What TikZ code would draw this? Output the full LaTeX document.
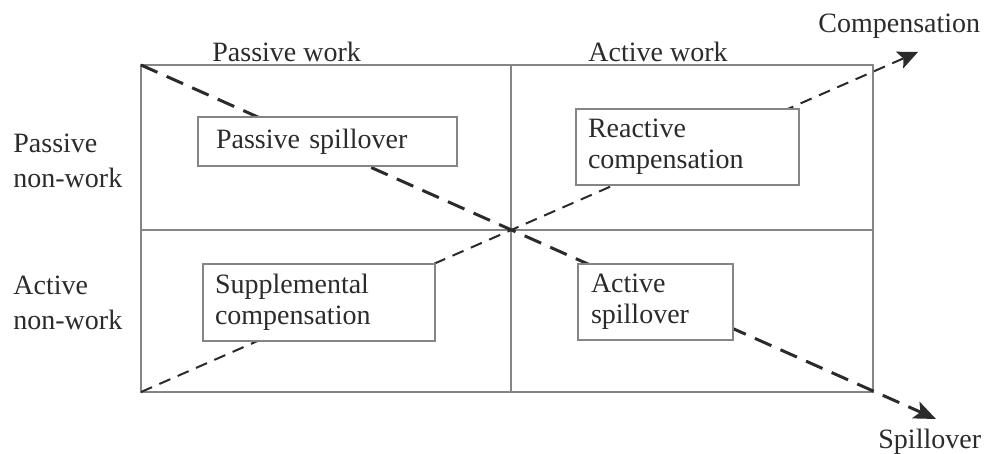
\documentclass[tikz,border=0pt]{standalone}
\usepackage{fontspec}
\setmainfont{Liberation Serif}
\usetikzlibrary{arrows.meta}
\definecolor{Frame}{HTML}{858585}
\definecolor{Ink}{HTML}{2B2B2B}
\tikzset{
 frame/.style={draw=Frame,line width=0.8pt},
 cell/.style={frame,fill=white,align=left,font=\fontsize{14}{15.5}\selectfont,text=Ink,inner ysep=0pt},
 side/.style={align=left,font=\fontsize{14}{17.5}\selectfont,text=Ink,inner sep=0pt},
 spill/.style={draw=Ink,line width=1.5pt,dash pattern=on 9pt off 5pt,-{Stealth[length=11pt,width=9pt,inset=2.5pt]}},
 comp/.style={draw=Ink,line width=1pt,dash pattern=on 6pt off 4pt,-{Stealth[length=10pt,width=9pt,inset=2pt]}}
}
\begin{document}
\begin{tikzpicture}[x=0.5pt,y=-0.5pt]
\useasboundingbox (0,0) rectangle (984,454);
% Frame and quadrants.
\coordinate (tl) at (141,65);
\coordinate (tr) at (873,65);
\coordinate (bl) at (141,392);
\coordinate (br) at (873,392);
\coordinate (tm) at (511,65);
\coordinate (bm) at (511,392);
\coordinate (lm) at (141,230);
\coordinate (rm) at (873,230);
\coordinate (spilltip) at (936,419);
\coordinate (comptip) at (918,52);
\draw[frame] (tl) rectangle (br);
\draw[frame] (tm) -- (bm);
\draw[frame] (lm) -- (rm);
% Diagonals.
\draw[spill] (tl) -- (spilltip);
\draw[comp] (bl) -- (comptip);
% Cells.
\node[cell,text width=111.5pt,inner xsep=9pt,minimum height=24.5pt] (pspill) at (327.5,141.5) {Passive spillover};
\node[cell,text width=99.5pt,inner xsep=6pt,minimum height=38pt] (rcomp) at (687.5,147) {Reactive\\compensation};
\node[cell,text width=104pt,inner xsep=6pt,minimum height=38.5pt] (scomp) at (319,302.5) {Supplemental\\compensation};
\node[cell,text width=64.5pt,inner xsep=6.5pt,minimum height=38pt] (aspill) at (655.5,302) {Active\\spillover};
% Axis labels.
\node[side,anchor=base west] (pwork) at (212,62) {Passive work};
\node[side,anchor=base west] (awork) at (588,62) {Active work};
\node[side,anchor=north west] (pnon) at (13,134) {Passive\\non-work};
\node[side,anchor=north west] (anon) at (13,276) {Active\\non-work};
\node[side,anchor=base west] (complab) at (818,33) {Compensation};
\node[side,anchor=base west] (spilllab) at (878,448) {Spillover};
\end{tikzpicture}
\end{document}
